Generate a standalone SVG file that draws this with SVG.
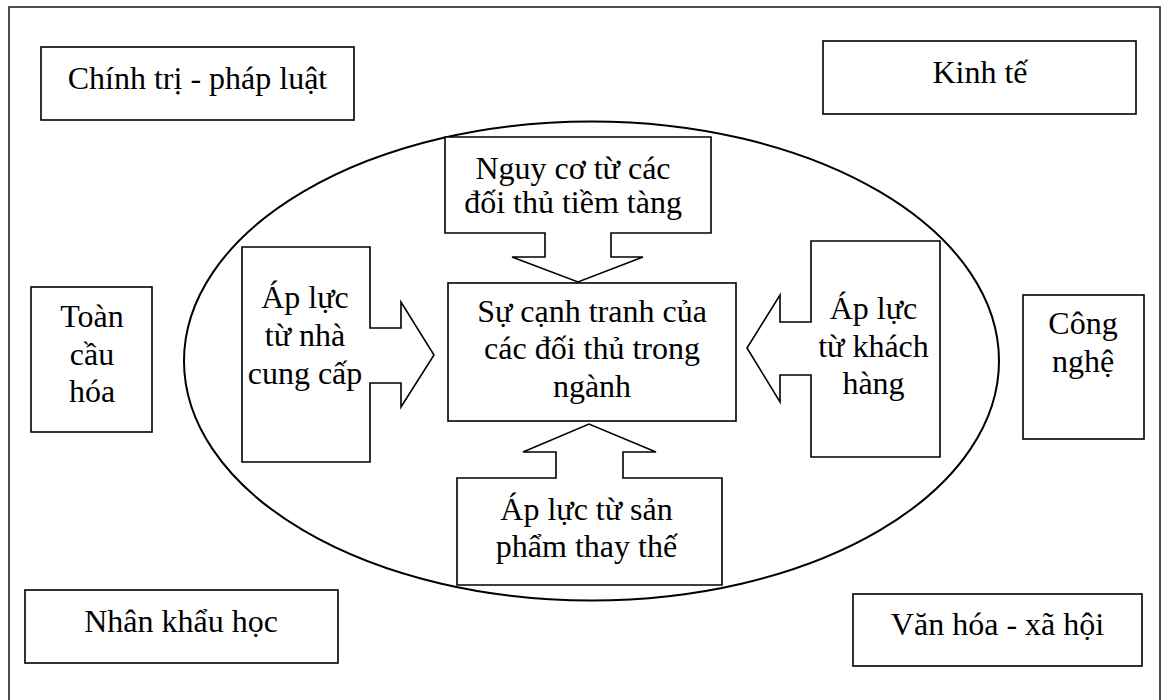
<svg xmlns="http://www.w3.org/2000/svg" width="1165" height="700" viewBox="0 0 1165 700">
<style>
.box{fill:#fff;stroke:#000;stroke-width:1.6}
.t{font-family:"Liberation Serif","Times New Roman",serif;font-size:32px;fill:#000;text-anchor:middle}
</style>
<rect x="0" y="0" width="1165" height="700" fill="#fff"/>
<rect id="frame" x="9" y="7" width="1151" height="700" fill="none" stroke="#222" stroke-width="1.6"/>
<g id="nodes-outer">
<g id="chinh-tri"><rect class="box" x="41" y="47" width="313" height="73"/><text class="t" x="197.5" y="89">Chính trị - pháp luật</text></g>
<g id="kinh-te"><rect class="box" x="823" y="41" width="313" height="73"/><text class="t" x="980" y="83">Kinh tế</text></g>
<g id="toan-cau-hoa"><rect class="box" x="31" y="287" width="121" height="145"/><text class="t" x="92" y="327">Toàn</text><text class="t" x="92" y="364.5">cầu</text><text class="t" x="92" y="402">hóa</text></g>
<g id="cong-nghe"><rect class="box" x="1023" y="295" width="121" height="144"/><text class="t" x="1083" y="334">Công</text><text class="t" x="1083" y="371.5">nghệ</text></g>
<g id="nhan-khau-hoc"><rect class="box" x="25" y="590" width="313" height="73"/><text class="t" x="181" y="632">Nhân khẩu học</text></g>
<g id="van-hoa"><rect class="box" x="853" y="594" width="289" height="72"/><text class="t" x="997.5" y="635">Văn hóa - xã hội</text></g>
</g>
<g id="connectors">
<ellipse cx="591.5" cy="361" rx="407.5" ry="239.5" fill="none" stroke="#000" stroke-width="2"/>
</g>
<g id="nodes-inner">
<g id="nguy-co"><polygon class="box" points="445,137 711,137 711,233 611,233 611,257 643,257 578,282 512,257 545,257 545,233 445,233"/><text class="t" x="573" y="178.5">Nguy cơ từ các</text><text class="t" x="573" y="213">đối thủ tiềm tàng</text></g>
<g id="nha-cung-cap"><polygon class="box" points="242,247 370,247 370,328 401,328 401,302 434,355 401,407 401,383 370,383 370,462 242,462"/><text class="t" x="305" y="308">Áp lực</text><text class="t" x="305" y="346">từ nhà</text><text class="t" x="305" y="383.5">cung cấp</text></g>
<g id="canh-tranh"><rect class="box" x="448" y="283" width="288" height="138"/><text class="t" x="592" y="321.5">Sự cạnh tranh của</text><text class="t" x="592" y="359">các đối thủ trong</text><text class="t" x="592" y="396.5">ngành</text></g>
<g id="khach-hang"><polygon class="box" points="940,241 811,241 811,322 780,322 780,295 747,348 780,402 780,375 811,375 811,457 940,457"/><text class="t" x="873.5" y="318.5">Áp lực</text><text class="t" x="873.5" y="356.5">từ khách</text><text class="t" x="873.5" y="393.5">hàng</text></g>
<g id="san-pham"><polygon class="box" points="457,478 556,478 556,452 523,452 589,424 656,452 623,452 623,478 722,478 722,585 457,585"/><text class="t" x="586.5" y="520">Áp lực từ sản</text><text class="t" x="586.5" y="557">phẩm thay thế</text></g>
</g>
</svg>
